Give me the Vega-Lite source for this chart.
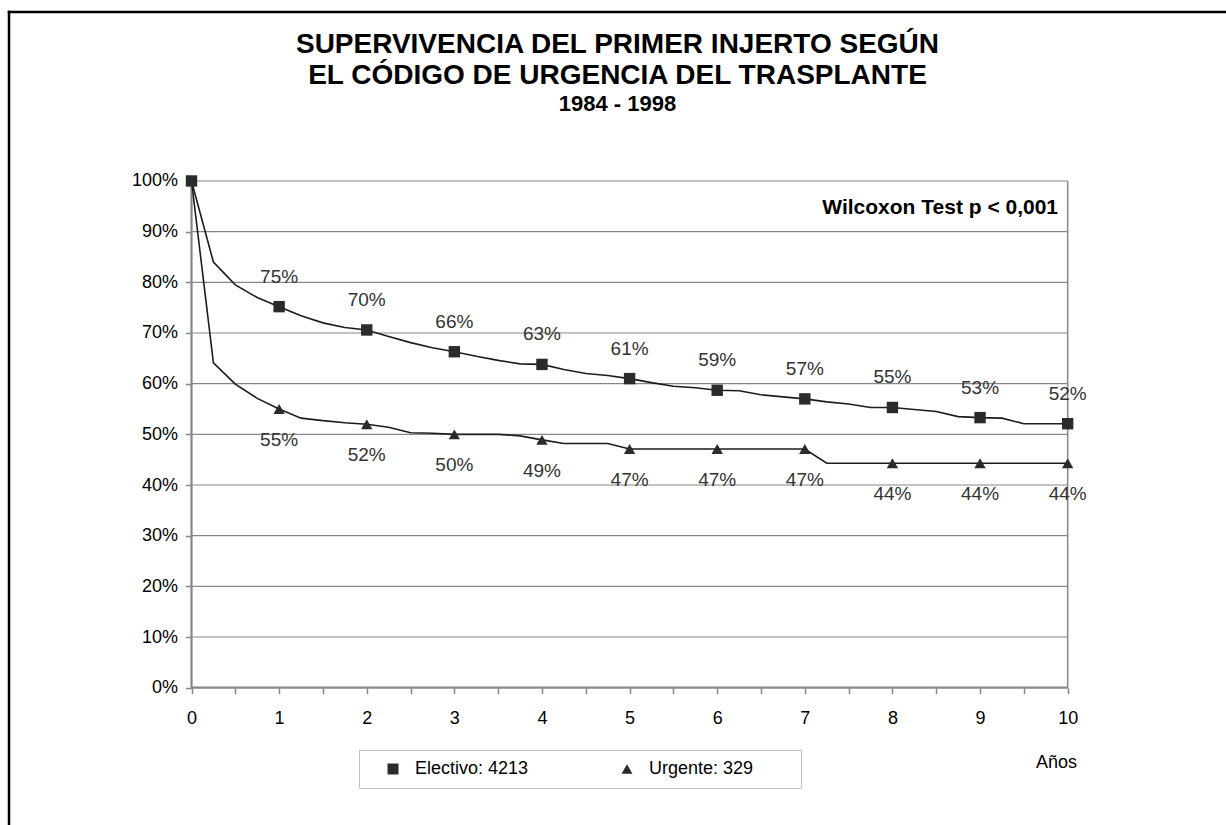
{
  "$schema": "https://vega.github.io/schema/vega-lite/v6.json",
  "width": 1217,
  "height": 813,
  "autosize": {"type": "none"},
  "padding": {"left": 9, "top": 12, "right": 0, "bottom": 0},
  "background": "white",
  "config": {"view": {"stroke": null}, "font": "Liberation Sans", "text": {"font": "Liberation Sans"}},
  "title": {
    "text": ["SUPERVIVENCIA DEL PRIMER INJERTO SEGÚN", "EL CÓDIGO DE URGENCIA DEL TRASPLANTE"],
    "subtitle": "1984 - 1998",
    "anchor": "middle",
    "frame": "group",
    "orient": "top",
    "offset": -105,
    "font": "Liberation Sans",
    "fontSize": 28,
    "fontWeight": "bold",
    "lineHeight": 31,
    "color": "#000000",
    "subtitleFont": "Liberation Sans",
    "subtitleFontSize": 22,
    "subtitleFontWeight": "bold",
    "subtitleColor": "#000000",
    "subtitlePadding": 4
  },
  "datasets": {
    "curva": [
      {"serie": "Electivo", "anos": 0, "pct": 100},
      {"serie": "Electivo", "anos": 0.25, "pct": 84.0},
      {"serie": "Electivo", "anos": 0.5, "pct": 79.5},
      {"serie": "Electivo", "anos": 0.75, "pct": 77.0},
      {"serie": "Electivo", "anos": 1, "pct": 75.2, "label": "75%"},
      {"serie": "Electivo", "anos": 1.25, "pct": 73.4},
      {"serie": "Electivo", "anos": 1.5, "pct": 72.0},
      {"serie": "Electivo", "anos": 1.75, "pct": 71.1},
      {"serie": "Electivo", "anos": 2, "pct": 70.6, "label": "70%"},
      {"serie": "Electivo", "anos": 2.25, "pct": 69.3},
      {"serie": "Electivo", "anos": 2.5, "pct": 68.1},
      {"serie": "Electivo", "anos": 2.75, "pct": 67.1},
      {"serie": "Electivo", "anos": 3, "pct": 66.3, "label": "66%"},
      {"serie": "Electivo", "anos": 3.25, "pct": 65.4},
      {"serie": "Electivo", "anos": 3.5, "pct": 64.6},
      {"serie": "Electivo", "anos": 3.75, "pct": 63.9},
      {"serie": "Electivo", "anos": 4, "pct": 63.8, "label": "63%"},
      {"serie": "Electivo", "anos": 4.25, "pct": 62.8},
      {"serie": "Electivo", "anos": 4.5, "pct": 62.0},
      {"serie": "Electivo", "anos": 4.75, "pct": 61.6},
      {"serie": "Electivo", "anos": 5, "pct": 61.0, "label": "61%"},
      {"serie": "Electivo", "anos": 5.25, "pct": 60.2},
      {"serie": "Electivo", "anos": 5.5, "pct": 59.5},
      {"serie": "Electivo", "anos": 5.75, "pct": 59.2},
      {"serie": "Electivo", "anos": 6, "pct": 58.7, "label": "59%"},
      {"serie": "Electivo", "anos": 6.25, "pct": 58.6},
      {"serie": "Electivo", "anos": 6.5, "pct": 57.8},
      {"serie": "Electivo", "anos": 6.75, "pct": 57.4},
      {"serie": "Electivo", "anos": 7, "pct": 57.0, "label": "57%"},
      {"serie": "Electivo", "anos": 7.25, "pct": 56.4},
      {"serie": "Electivo", "anos": 7.5, "pct": 56.0},
      {"serie": "Electivo", "anos": 7.75, "pct": 55.3},
      {"serie": "Electivo", "anos": 8, "pct": 55.3, "label": "55%"},
      {"serie": "Electivo", "anos": 8.25, "pct": 54.9},
      {"serie": "Electivo", "anos": 8.5, "pct": 54.5},
      {"serie": "Electivo", "anos": 8.75, "pct": 53.5},
      {"serie": "Electivo", "anos": 9, "pct": 53.3, "label": "53%"},
      {"serie": "Electivo", "anos": 9.25, "pct": 53.2},
      {"serie": "Electivo", "anos": 9.5, "pct": 52.1},
      {"serie": "Electivo", "anos": 9.75, "pct": 52.1},
      {"serie": "Electivo", "anos": 10, "pct": 52.1, "label": "52%"},
      {"serie": "Urgente", "anos": 0, "pct": 100},
      {"serie": "Urgente", "anos": 0.25, "pct": 64.1},
      {"serie": "Urgente", "anos": 0.5, "pct": 59.9},
      {"serie": "Urgente", "anos": 0.75, "pct": 57.1},
      {"serie": "Urgente", "anos": 1, "pct": 55.0, "label": "55%"},
      {"serie": "Urgente", "anos": 1.25, "pct": 53.2},
      {"serie": "Urgente", "anos": 1.5, "pct": 52.7},
      {"serie": "Urgente", "anos": 1.75, "pct": 52.3},
      {"serie": "Urgente", "anos": 2, "pct": 52.0, "label": "52%"},
      {"serie": "Urgente", "anos": 2.25, "pct": 51.4},
      {"serie": "Urgente", "anos": 2.5, "pct": 50.3},
      {"serie": "Urgente", "anos": 2.75, "pct": 50.2},
      {"serie": "Urgente", "anos": 3, "pct": 50.0, "label": "50%"},
      {"serie": "Urgente", "anos": 3.25, "pct": 50.0},
      {"serie": "Urgente", "anos": 3.5, "pct": 50.0},
      {"serie": "Urgente", "anos": 3.75, "pct": 49.7},
      {"serie": "Urgente", "anos": 4, "pct": 48.9, "label": "49%"},
      {"serie": "Urgente", "anos": 4.25, "pct": 48.2},
      {"serie": "Urgente", "anos": 4.5, "pct": 48.2},
      {"serie": "Urgente", "anos": 4.75, "pct": 48.2},
      {"serie": "Urgente", "anos": 5, "pct": 47.1, "label": "47%"},
      {"serie": "Urgente", "anos": 5.25, "pct": 47.1},
      {"serie": "Urgente", "anos": 5.5, "pct": 47.1},
      {"serie": "Urgente", "anos": 5.75, "pct": 47.1},
      {"serie": "Urgente", "anos": 6, "pct": 47.1, "label": "47%"},
      {"serie": "Urgente", "anos": 6.25, "pct": 47.1},
      {"serie": "Urgente", "anos": 6.5, "pct": 47.1},
      {"serie": "Urgente", "anos": 6.75, "pct": 47.1},
      {"serie": "Urgente", "anos": 7, "pct": 47.1, "label": "47%"},
      {"serie": "Urgente", "anos": 7.25, "pct": 44.3},
      {"serie": "Urgente", "anos": 7.5, "pct": 44.3},
      {"serie": "Urgente", "anos": 7.75, "pct": 44.3},
      {"serie": "Urgente", "anos": 8, "pct": 44.3, "label": "44%"},
      {"serie": "Urgente", "anos": 8.25, "pct": 44.3},
      {"serie": "Urgente", "anos": 8.5, "pct": 44.3},
      {"serie": "Urgente", "anos": 8.75, "pct": 44.3},
      {"serie": "Urgente", "anos": 9, "pct": 44.3, "label": "44%"},
      {"serie": "Urgente", "anos": 9.25, "pct": 44.3},
      {"serie": "Urgente", "anos": 9.5, "pct": 44.3},
      {"serie": "Urgente", "anos": 9.75, "pct": 44.3},
      {"serie": "Urgente", "anos": 10, "pct": 44.3, "label": "44%"}
    ],
    "grid": [
      {"pct": 10}, {"pct": 20}, {"pct": 30}, {"pct": 40}, {"pct": 50},
      {"pct": 60}, {"pct": 70}, {"pct": 80}, {"pct": 90}, {"pct": 100}
    ]
  },
  "layer": [
    {
      "data": {"values": [{}]},
      "mark": {"type": "rule", "color": "#000000", "strokeWidth": 2.5, "strokeCap": "square"},
      "encoding": {
        "x": {
          "datum": -2.083, "type": "quantitative",
          "scale": {"domain": [-2.083, 11.807], "nice": false, "zero": false},
          "axis": {
            "orient": "bottom", "offset": -137.3,
            "values": [0, 0.25, 0.5, 0.75, 1, 1.25, 1.5, 1.75, 2, 2.25, 2.5, 2.75, 3, 3.25, 3.5, 3.75, 4, 4.25, 4.5, 4.75, 5, 5.25, 5.5, 5.75, 6, 6.25, 6.5, 6.75, 7, 7.25, 7.5, 7.75, 8, 8.25, 8.5, 8.75, 9, 9.25, 9.5, 9.75, 10],
            "labelExpr": "datum.value % 1 === 0 ? format(datum.value, 'd') : ''",
            "domain": false, "grid": false,
            "tickSize": 6, "tickColor": "#878787", "tickWidth": 1.5,
            "labelFont": "Liberation Sans", "labelFontSize": 18, "labelColor": "#000000", "labelPadding": 16,
            "labelOverlap": false, "labelFlush": false, "labelBound": false,
            "title": "Años", "titleFont": "Liberation Sans", "titleFontWeight": "normal", "titleFontSize": 18, "titleColor": "#000000",
            "titleX": 1047, "titleY": 75, "titleAlign": "center", "titleBaseline": "middle"
          }
        },
        "y": {
          "datum": -27.1, "type": "quantitative",
          "scale": {"domain": [-27.1, 133.35], "nice": false, "zero": false},
          "axis": {
            "orient": "left", "offset": -182.5,
            "values": [0, 10, 20, 30, 40, 50, 60, 70, 80, 90, 100],
            "labelExpr": "datum.value + '%'",
            "domain": false, "grid": false,
            "tickSize": 6, "tickColor": "#878787", "tickWidth": 1.5,
            "labelFont": "Liberation Sans", "labelFontSize": 18, "labelColor": "#000000", "labelPadding": 8,
            "labelOverlap": false, "labelFlush": false, "labelBound": false,
            "title": null
          }
        },
        "y2": {"datum": 133.35}
      }
    },
    {
      "data": {"values": [{}]},
      "mark": {"type": "rule", "color": "#000000", "strokeWidth": 2.5, "strokeCap": "square"},
      "encoding": {
        "x": {"datum": -2.083, "type": "quantitative"},
        "x2": {"datum": 11.807},
        "y": {"datum": 133.35, "type": "quantitative"}
      }
    },
    {
      "data": {"name": "grid"},
      "mark": {"type": "rule", "color": "#878787", "strokeWidth": 1.2},
      "encoding": {
        "x": {"datum": 0, "type": "quantitative"},
        "x2": {"datum": 10},
        "y": {"field": "pct", "type": "quantitative"}
      }
    },
    {
      "data": {"values": [{}]},
      "mark": {"type": "rule", "color": "#878787", "strokeWidth": 1.5},
      "encoding": {
        "x": {"datum": 10, "type": "quantitative"},
        "y": {"datum": 0, "type": "quantitative"},
        "y2": {"datum": 100}
      }
    },
    {
      "data": {"values": [{}]},
      "mark": {"type": "rule", "color": "#878787", "strokeWidth": 2.2},
      "encoding": {
        "x": {"datum": 0, "type": "quantitative"},
        "x2": {"datum": 10},
        "y": {"datum": 0, "type": "quantitative"}
      }
    },
    {
      "data": {"values": [{}]},
      "mark": {"type": "rule", "color": "#878787", "strokeWidth": 2.2},
      "encoding": {
        "x": {"datum": 0, "type": "quantitative"},
        "y": {"datum": 0, "type": "quantitative"},
        "y2": {"datum": 100}
      }
    },
    {
      "data": {"name": "curva"},
      "mark": {"type": "line", "color": "#1c1c1c", "strokeWidth": 1.6},
      "encoding": {
        "x": {"field": "anos", "type": "quantitative"},
        "y": {"field": "pct", "type": "quantitative"},
        "detail": {"field": "serie"}
      }
    },
    {
      "data": {"name": "curva"},
      "transform": [{"filter": "datum.anos % 1 === 0"}],
      "mark": {"type": "point", "filled": true, "color": "#2b2b2b", "opacity": 1, "size": 130},
      "encoding": {
        "x": {"field": "anos", "type": "quantitative"},
        "y": {"field": "pct", "type": "quantitative"},
        "shape": {
          "field": "serie", "type": "nominal",
          "scale": {"domain": ["Electivo", "Urgente"], "range": ["square", "triangle-up"]},
          "legend": {
            "title": " ", "titleOrient": "right", "titlePadding": 38, "titleFontSize": 18,
            "orient": "none", "legendX": 350, "legendY": 738,
            "direction": "horizontal", "columns": 2, "gridAlign": "all",
            "strokeColor": "#c0c0c0", "padding": 10, "fillColor": "white",
            "labelExpr": "datum.label == 'Electivo' ? 'Electivo: 4213' : 'Urgente: 329'",
            "labelFont": "Liberation Sans", "labelFontSize": 18, "labelColor": "#000000",
            "symbolSize": 120, "symbolFillColor": "#2b2b2b", "symbolStrokeColor": "#2b2b2b",
            "symbolOffset": 15, "labelOffset": 13, "columnPadding": 74
          }
        }
      }
    },
    {
      "data": {"name": "curva"},
      "transform": [{"filter": "isValid(datum.label) && datum.serie === 'Electivo'"}],
      "mark": {"type": "text", "font": "Liberation Sans", "fontSize": 19, "color": "#333333", "dy": -30, "align": "center", "baseline": "middle"},
      "encoding": {
        "x": {"field": "anos", "type": "quantitative"},
        "y": {"field": "pct", "type": "quantitative"},
        "text": {"field": "label"}
      }
    },
    {
      "data": {"name": "curva"},
      "transform": [{"filter": "isValid(datum.label) && datum.serie === 'Urgente'"}],
      "mark": {"type": "text", "font": "Liberation Sans", "fontSize": 19, "color": "#333333", "dy": 31, "align": "center", "baseline": "middle"},
      "encoding": {
        "x": {"field": "anos", "type": "quantitative"},
        "y": {"field": "pct", "type": "quantitative"},
        "text": {"field": "label"}
      }
    },
    {
      "data": {"values": [{}]},
      "mark": {"type": "text", "font": "Liberation Sans", "fontSize": 21, "fontWeight": "bold", "color": "#000000", "align": "right", "baseline": "middle"},
      "encoding": {
        "x": {"datum": 9.89, "type": "quantitative"},
        "y": {"datum": 94.7, "type": "quantitative"},
        "text": {"value": "Wilcoxon Test p < 0,001"}
      }
    }
  ]
}
